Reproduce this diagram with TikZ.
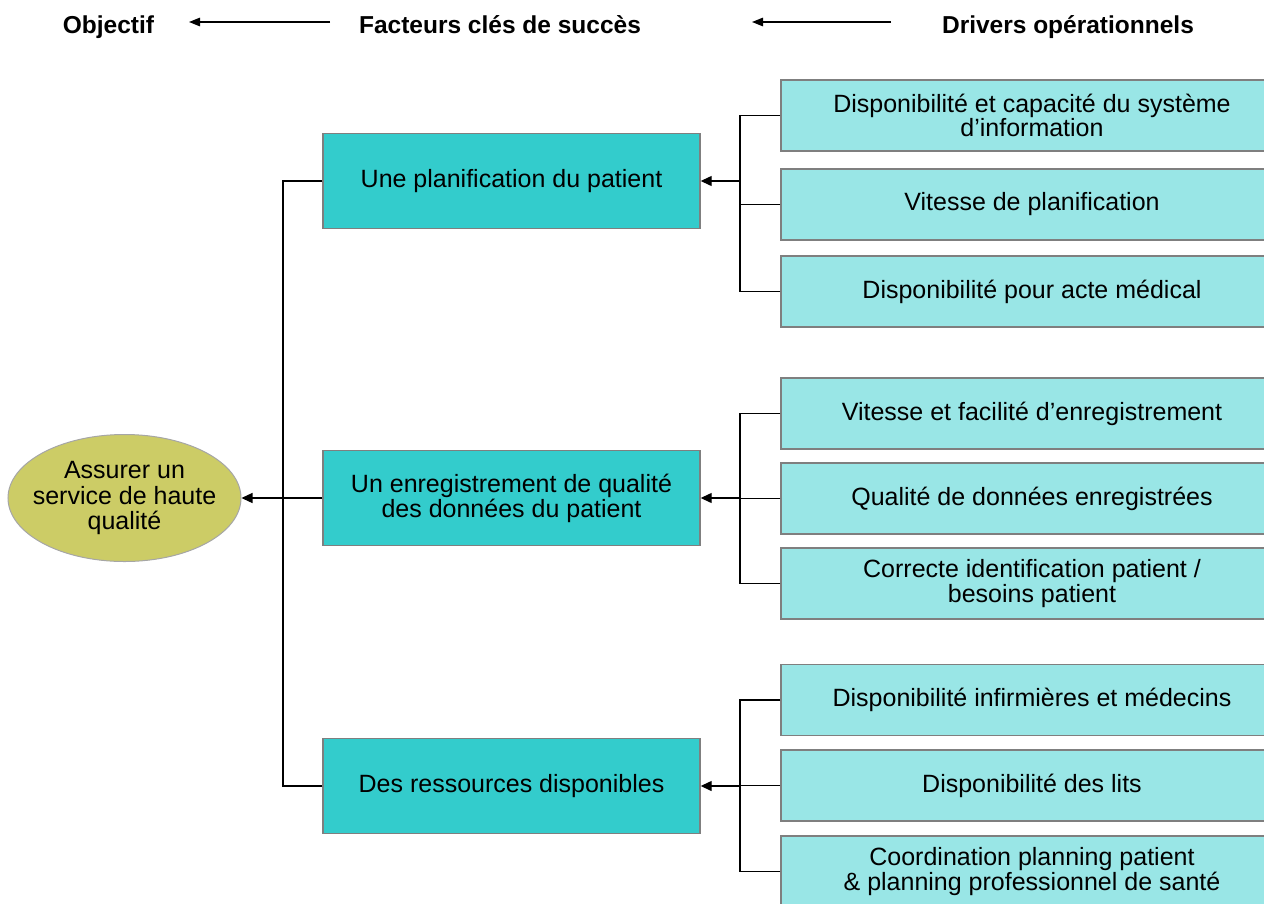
\documentclass[tikz,border=0pt]{standalone}
\usepackage{fontspec}
\setmainfont{Liberation Sans}
\usetikzlibrary{arrows.meta,shapes.geometric}
\definecolor{midteal}{HTML}{33CCCC}
\definecolor{lightteal}{HTML}{99E6E6}
\definecolor{olive}{HTML}{CCCC66}
\definecolor{boxborder}{HTML}{7F7F7F}
\definecolor{ellborder}{HTML}{A6A6A6}
\tikzset{
  midbox/.style={draw=boxborder, line width=1.4pt, fill=midteal, minimum width=377pt, minimum height=95pt, align=center, inner sep=0pt, font=\fontsize{25}{25}\selectfont},
  drvbox/.style={draw=boxborder, line width=1.4pt, fill=lightteal, minimum width=502pt, minimum height=71pt, align=center, inner sep=0pt, font=\fontsize{25}{23}\selectfont},
  goal/.style={ellipse, draw=ellborder, line width=1pt, fill=olive, minimum width=233pt, minimum height=127pt, inner sep=0pt},
  goaltext/.style={align=center, inner sep=0pt, font=\fontsize{25}{25.5}\selectfont},
  hdr/.style={anchor=base, font=\fontsize{24.5}{25}\selectfont\bfseries, inner sep=0pt},
  conn/.style={line width=1.3pt, black},
  arr/.style={conn, -{Triangle[length=11pt,width=10pt]}},
  harr/.style={line width=1.3pt, -{Triangle[length=11pt,width=8.5pt]}}
}
\begin{document}
\begin{tikzpicture}[x=1pt,y=-1pt]
\useasboundingbox (0,0) rectangle (1264,903);
% headers
\node[hdr] (h1) at (108.5,33) {Objectif};
\node[hdr] (h2) at (500,33) {Facteurs clés de succès};
\node[hdr] (h3) at (1068,33) {Drivers opérationnels};
\coordinate (a1s) at (330,22); \coordinate (a1e) at (189,22);
\coordinate (a2s) at (891,22); \coordinate (a2e) at (752,22);
\draw[harr] (a1s) -- (a1e);
\draw[harr] (a2s) -- (a2e);
% goal
\node[goal] (g) at (124.5,498) {};
\node[goaltext] (gt) at (g.center) {Assurer un\\service de haute\\qualité};
% middle boxes
\node[midbox] (m1) at (511.5,181) {Une planification du patient};
\node[midbox] (m2) at (511.5,498) {Un enregistrement de qualité\\des données du patient};
\node[midbox] (m3) at (511.5,786) {Des ressources disponibles};
% driver boxes
\node[drvbox] (r11) at (1032,115.5) {Disponibilité et capacité du système\\d’information};
\node[drvbox] (r12) at (1032,204.5) {Vitesse de planification};
\node[drvbox] (r13) at (1032,291.5) {Disponibilité pour acte médical};
\node[drvbox] (r21) at (1032,413.5) {Vitesse et facilité d’enregistrement};
\node[drvbox] (r22) at (1032,498.5) {Qualité de données enregistrées};
\node[drvbox] (r23) at (1032,583.5) {Correcte identification patient /\\besoins patient};
\node[drvbox] (r31) at (1032,700) {Disponibilité infirmières et médecins};
\node[drvbox] (r32) at (1032,785.5) {Disponibilité des lits};
\node[drvbox] (r33) at (1032,871.5) {Coordination planning patient\\\& planning professionnel de santé};
% junctions
\coordinate (j1) at (740,181);
\coordinate (j2) at (740,498);
\coordinate (j3) at (740,786);
\coordinate (jl) at (283,498);
% right brackets
\foreach \g in {1,2,3}{
  \draw[conn] (r\g1.west) -| (j\g);
  \draw[conn] (r\g2.west) -| (j\g);
  \draw[conn] (r\g3.west) -| (j\g);
}
\draw[arr] (j1) -- (m1.east);
\draw[arr] (j2) -- (m2.east);
\draw[arr] (j3) -- (m3.east);
% left bracket
\draw[conn] (m1.west) -| (jl);
\draw[conn] (m3.west) -| (jl);
\draw[arr] (m2.west) -- (g.east);
\end{tikzpicture}
\end{document}
